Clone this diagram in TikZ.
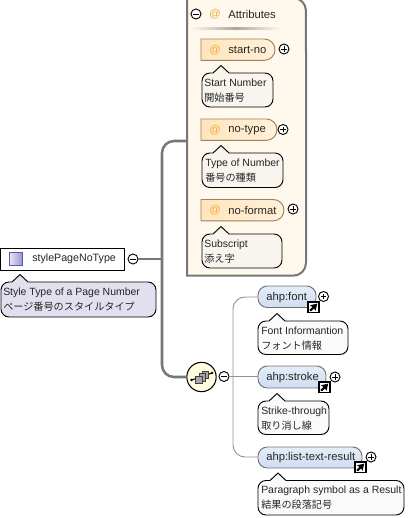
\documentclass[tikz,border=0pt]{standalone}
\usepackage{fontspec}
\setmainfont{Liberation Sans}
\newfontfamily\cjkfont{Noto Sans CJK JP}
\newcommand{\jp}[1]{{\cjkfont\fontsize{7.6pt}{11pt}\selectfont #1}}
\usetikzlibrary{arrows.meta}
\definecolor{edgegray}{HTML}{777777}
\definecolor{boxcream}{HTML}{FFF8EC}
\definecolor{notecream}{HTML}{F7F5EE}
\definecolor{noteblue}{HTML}{FAFAFA}
\definecolor{notelav}{HTML}{E3DFEF}
\definecolor{pillorange}{HTML}{FFE5BC}
\definecolor{pillblue}{HTML}{CFDDF2}
\definecolor{atcolor}{HTML}{F2A93C}
\tikzset{
  x=0.75pt,y=-0.75pt,
  txt/.style={font=\fontsize{8.45pt}{10pt}\selectfont,inner sep=0pt,anchor=west,text=black!85},
  notetxt/.style={font=\fontsize{7.85pt}{11pt}\selectfont,inner sep=0pt,anchor=north west,align=left,text=black!85},
  togglecirc/.style={circle,draw=black,line width=0.7pt,fill=white,minimum size=7.5pt,inner sep=0pt},
  thickline/.style={draw=edgegray,line width=1.9pt,rounded corners=9pt},
  thinline/.style={draw=gray!85,line width=0.7pt,rounded corners=9pt},
  noteshape/.style={draw=black,line width=0.7pt},
}
% x1 y1 x2 y2 peakx fill
\newcommand{\noteshape}[6]{%
  \path[noteshape,fill=#6] (#1+8,#2) -- (#5-8,#2) -- (#5,#2-7.5) -- (#5+8,#2) -- (#3-8,#2)
    arc[start angle=90,end angle=0,radius=6pt] -- (#3,#4-8)
    arc[start angle=0,end angle=-90,radius=6pt] -- (#1+8,#4)
    arc[start angle=270,end angle=180,radius=6pt] -- (#1,#2+8)
    arc[start angle=180,end angle=90,radius=6pt] -- cycle;}
% pill: x1 y1 x2 colour
\newcommand{\attrpill}[4]{%
  \path[draw=brown!45!gray,line width=0.7pt,left color=#4,right color=#4!55!white]
    (#1,#2) -- (#3-10.67,#2) arc[start angle=90,end angle=-90,radius=8pt] -- (#1,#2+21.33) -- cycle;
}
\newcommand{\elempill}[5]{%
  \path[draw=gray!90!black,line width=0.7pt,top color=#5!55!white,bottom color=#5]
    (#1,#2) [rounded corners=7pt] -- (#3,#2) -- (#3,#4) -- (#1,#4) -- cycle;
}
\newcommand{\linkicon}[2]{%
  \draw[black,fill=white,line width=0.9pt] (#1,#2) rectangle ++(11,10.5);
  \draw[black,line width=1.5pt,-{Stealth[length=4.6pt,width=5.6pt,inset=0.5pt]}] (#1+2.2,#2+8.7) -- (#1+9.2,#2+1.6);
}
\newcommand{\minusglyph}{\tikz[x=1pt,y=1pt]\draw[line width=.6pt](-2,0)--(2,0);}
\newcommand{\plusglyph}{\tikz[x=1pt,y=1pt]\draw[line width=.5pt](-1.9,0)--(1.9,0)(0,-1.9)--(0,1.9);}
\begin{document}
\begin{tikzpicture}
\useasboundingbox (0,0) rectangle (411,518);
% attributes box
\path[draw=edgegray,line width=1.5pt,fill=boxcream]
  (187,-2) -- (293.33,-2) arc[start angle=90,end angle=0,radius=9.5pt] -- (306,263)
  arc[start angle=0,end angle=-90,radius=9.5pt] -- (187,275.67) -- cycle;
\node[inner sep=0pt,minimum width=89.25pt,minimum height=207.8pt] (attrs) at (246.5,137) {};
\shade[left color=boxcream,right color=boxcream,middle color=gray!70] (191,27) rectangle (280,29);
% connectors
\node[togglecirc] (rootm) at (133,259) {\minusglyph};
\node[circle,draw=black,line width=0.8pt,fill=yellow!13,minimum size=22pt,inner sep=0pt] (seq) at (201.5,377) {};
\coordinate (rootj) at (162,259);
\coordinate (attrin) at (187,141);
\draw[thickline] (attrin) -| (rootj);
\draw[thickline] (seq.west) -| (rootj);
\draw[draw=edgegray,line width=1.9pt] (rootm.east) -- (rootj);
\node[togglecirc] (seqm) at (224,376.5) {\minusglyph};
\coordinate (seqj) at (233,376.5);
\coordinate (fontin) at (258,297);
\coordinate (strokein) at (258,376.5);
\coordinate (listin) at (258,457);
\draw[thinline] (fontin) -| (seqj);
\draw[thinline] (listin) -| (seqj);
\draw[thinline] (seqm.east) -- (strokein);
% sequence icon
\draw[black,line width=0.8pt] (191.5,380) -- (212,373);
\draw[fill=gray!70,draw=black!75,line width=0.5pt] (202,371) rectangle (208.5,378);
\draw[fill=gray!70,draw=black!75,line width=0.5pt] (199,373) rectangle (205.5,381);
\draw[fill=gray!70,draw=black!75,line width=0.5pt] (195,376) rectangle (202,383);
\fill (191.5,380) circle (1pt) (212,373) circle (1pt);
% attributes header
\node[togglecirc] (attrm) at (196,14) {\minusglyph};
\node[txt,text=atcolor] (attrat) at (209,14) {@};
\node[txt] (attrt) at (228,14.5) {Attributes};
% root
\node[draw=black,line width=0.75pt,fill=white,minimum width=92.5pt,minimum height=16.5pt,inner sep=0pt] (root) at (62.5,259) {};
\shade[left color=notelav!70!white,right color=blue!35!gray!60] (9,252) rectangle (22,265);
\draw[gray!70!blue,line width=0.5pt] (9,252) rectangle (22,265);
\node[txt,font=\fontsize{8pt}{10pt}\selectfont] (roott) at (32,259) {stylePageNoType};
\noteshape{1}{282}{156}{317}{20}{notelav}
\node[notetxt] (rootn) at (3,287.5) {Style Type of a Page Number\\\jp{ページ番号のスタイルタイプ}};
% start-no
\attrpill{201}{39}{275}{pillorange}
\node[txt,text=atcolor] (a1) at (209,50) {@};
\node[txt] (a1t) at (228,50) {start-no};
\node[togglecirc] (a1p) at (284,49) {\plusglyph};
\noteshape{202}{73}{273}{107}{221}{notecream}
\node[notetxt] (a1n) at (204,79) {Start Number\\\jp{開始番号}};
% no-type
\attrpill{201}{119}{277}{pillorange}
\node[txt,text=atcolor] (a2) at (209,130.5) {@};
\node[txt] (a2t) at (228,130.5) {no-type};
\node[togglecirc] (a2p) at (283,129.5) {\plusglyph};
\noteshape{202}{153}{283}{187.5}{221}{notecream}
\node[notetxt] (a2n) at (205,159) {Type of Number\\\jp{番号の種類}};
% no-format
\attrpill{201}{199.5}{284}{pillorange}
\node[txt,text=atcolor] (a3) at (209,210.5) {@};
\node[txt] (a3t) at (228,210.5) {no-format};
\node[togglecirc] (a3p) at (293,209) {\plusglyph};
\noteshape{202}{234}{282}{268}{221}{notecream}
\node[notetxt] (a3n) at (204,240) {Subscript\\\jp{添え字}};
% font
\elempill{258}{286}{316}{307.5}{pillblue}
\node[txt] (e1t) at (266,297.5) {ahp:font};
\linkicon{308}{302}
\node[togglecirc] (e1p) at (323.5,296.5) {\plusglyph};
\noteshape{258}{321}{348}{354.5}{277}{noteblue}
\node[notetxt] (e1n) at (261,326.5) {Font Informantion\\\jp{フォント情報}};
% stroke
\elempill{258}{366}{326}{388}{pillblue}
\node[txt] (e2t) at (266,377.5) {ahp:stroke};
\linkicon{319}{382}
\node[togglecirc] (e2p) at (335,377) {\plusglyph};
\noteshape{258}{401}{329}{434.5}{277}{noteblue}
\node[notetxt] (e2n) at (261,406.5) {Strike-through\\\jp{取り消し線}};
% list-text-result
\elempill{258}{447}{362}{468}{pillblue}
\node[txt] (e3t) at (266,458) {ahp:list-text-result};
\linkicon{355}{462}
\node[togglecirc] (e3p) at (371,457) {\plusglyph};
\noteshape{258}{480.5}{404}{515}{278}{noteblue}
\node[notetxt] (e3n) at (261,486) {Paragraph symbol as a Result\\\jp{結果の段落記号}};
\end{tikzpicture}
\end{document}
